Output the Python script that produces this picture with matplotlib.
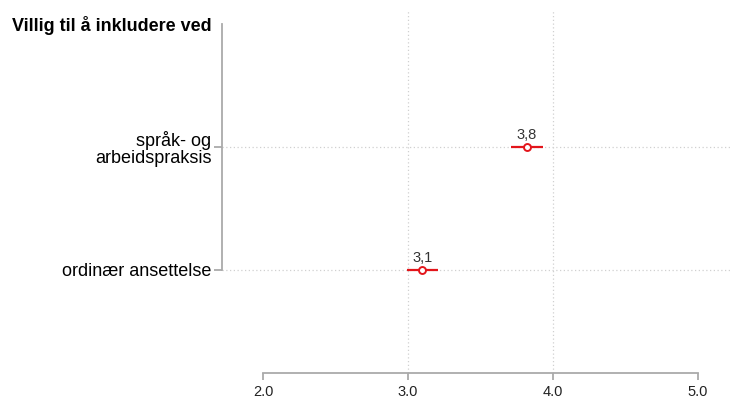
import matplotlib.pyplot as plt

plt.rcParams['font.family'] = ['Liberation Sans', 'DejaVu Sans']

# data
categories = ['ordinær ansettelse', 'språk- og\narbeidspraksis']
means = [3.10, 3.82]
lower = [2.99, 3.71]
upper = [3.21, 3.93]
labels = ['3,1', '3,8']
header = 'Villig til å inkludere ved'
xticks = [2.0, 3.0, 4.0, 5.0]

red = '#e3151b'
axis_grey = '#aaaaaa'

fig = plt.figure(figsize=(7.31, 3.99), dpi=100)
# axes box in pixels: left 222, right 731, bottom 373, top 10
ax = fig.add_axes([222 / 731, (399 - 373) / 399, (731 - 222) / 731, (373 - 10) / 399])

ypos = list(range(1, len(categories) + 1))
ax.set_xlim(1.717, 5.228)
ax.set_ylim(0.163, 3.11)

# dotted grid
for x in [3.0, 4.0]:
    ax.axvline(x, color='#d0d0d0', linestyle=(0, (1, 2)), linewidth=0.9, zorder=0)
for y in ypos:
    ax.axhline(y, color='#d0d0d0', linestyle=(0, (1, 2)), linewidth=0.9, zorder=0)

for y, m, lo, hi, lab in zip(ypos, means, lower, upper, labels):
    ax.plot([lo, hi], [y, y], color=red, linewidth=1.6, solid_capstyle='butt', zorder=2)
    ax.plot(m, y, 'o', markersize=5, markerfacecolor='white', markeredgecolor=red,
            markeredgewidth=1.4, zorder=3)
    ax.annotate(lab, (m, y), xytext=(0, 3.5), textcoords='offset points',
                ha='center', va='bottom', fontsize=10.5, color='#333333')

for side in ['top', 'right']:
    ax.spines[side].set_visible(False)
ax.spines['left'].set_bounds(1, 3)
ax.spines['bottom'].set_bounds(2, 5)
for side in ['left', 'bottom']:
    ax.spines[side].set_color(axis_grey)
    ax.spines[side].set_linewidth(1.3)

ax.set_xticks(xticks)
ax.set_xticklabels([f'{t:.1f}' for t in xticks], fontsize=10.5, color='#222222')
ax.set_yticks(ypos + [3])
ax.set_yticklabels(categories + [header], fontsize=13, color='black',
                   linespacing=1.0)
ax.get_yticklabels()[-1].set_fontweight('bold')
ax.tick_params(axis='x', length=5, width=1.3, color=axis_grey, pad=4)
ax.tick_params(axis='y', length=6, width=1.3, color=axis_grey, pad=1.5)
ax.yaxis.get_major_ticks()[-1].tick1line.set_visible(False)

fig.savefig('out.png', dpi=100)
